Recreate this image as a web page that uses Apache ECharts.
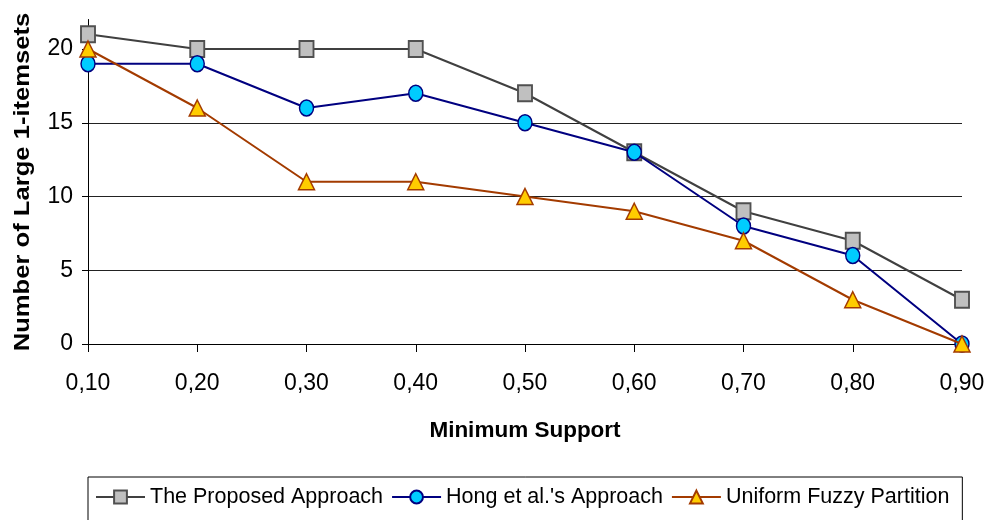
<!DOCTYPE html>
<html>
<head>
<meta charset="utf-8">
<script src="https://cdn.jsdelivr.net/npm/echarts@6/dist/echarts.min.js"></script>
<style>
  html, body { margin: 0; padding: 0; background: #fff; }
  #chart { width: 989px; height: 520px; }
</style>
</head>
<body>
<div id="chart"></div>
<script>
// Minimum support thresholds
const supports = ['0,10', '0,20', '0,30', '0,40', '0,50', '0,60', '0,70', '0,80', '0,90'];
// Number of large 1-itemsets found by each method
const proposed = [21, 20, 20, 20, 17, 13, 9, 7, 3];
const hong = [19, 19, 16, 17, 15, 13, 8, 6, 0];
const uniform = [20, 16, 11, 11, 10, 9, 7, 3, 0];
// Value-axis ticks
const yTicks = [0, 5, 10, 15, 20];

const FONT = 'Liberation Sans, Arial, sans-serif';

const chart = echarts.init(document.getElementById('chart'), null, { renderer: 'canvas' });

chart.setOption({
  animation: false,
  backgroundColor: '#ffffff',
  grid: { left: 88, right: 27, top: 19.5, bottom: 176, containLabel: false },
  xAxis: {
    type: 'category',
    data: supports,
    boundaryGap: false,
    name: 'Minimum Support',
    nameLocation: 'middle',
    nameGap: 75,
    nameTextStyle: { fontFamily: FONT, fontWeight: 'bold', fontSize: 22.5, color: '#000' },
    axisLine: { lineStyle: { color: '#000', width: 1 } },
    axisTick: { show: true, alignWithLabel: true, length: 8, lineStyle: { color: '#000' } },
    axisLabel: { fontFamily: FONT, fontSize: 23, color: '#000', margin: 28 },
    splitLine: { show: false }
  },
  yAxis: {
    type: 'value',
    min: 0,
    max: 22,
    interval: 5,
    axisLine: { show: true, lineStyle: { color: '#000', width: 1 } },
    axisTick: { show: true, length: 6, lineStyle: { color: '#000' }, customValues: yTicks },
    axisLabel: { fontFamily: FONT, fontSize: 23, color: '#000', margin: 15, customValues: yTicks },
    splitLine: { show: true, showMaxLine: false, lineStyle: { color: '#222', width: 1 } }
  },
  graphic: [
    {
      // vertical axis title
      type: 'text',
      x: 23,
      y: 182,
      rotation: Math.PI / 2,
      scaleX: 1.28,
      scaleY: 1.1,
      style: {
        text: 'Number of Large 1-itemsets',
        fontFamily: FONT,
        fontWeight: 'bold',
        fontSize: 20,
        fill: '#000',
        align: 'center',
        verticalAlign: 'middle'
      }
    }
  ],
  legend: {
    top: 477,
    left: 88,
    padding: [9, 13, 40, 7],
    borderColor: '#000',
    borderWidth: 1,
    itemGap: 8,
    itemWidth: 49,
    itemHeight: 16,
    textStyle: { fontFamily: FONT, fontSize: 21.5, color: '#000' },
    data: ['The Proposed Approach', "Hong et al.'s Approach", 'Uniform Fuzzy Partition']
  },
  series: [
    {
      name: 'The Proposed Approach',
      type: 'line',
      data: proposed,
      symbol: 'rect',
      symbolSize: [14, 16],
      lineStyle: { color: '#404040', width: 2 },
      itemStyle: { color: '#c0c0c0', borderColor: '#505050', borderWidth: 2 },
      z: 2
    },
    {
      name: "Hong et al.'s Approach",
      type: 'line',
      data: hong,
      symbol: 'circle',
      symbolSize: [14, 16],
      lineStyle: { color: '#000080', width: 2 },
      itemStyle: { color: '#00ccff', borderColor: '#000080', borderWidth: 1.5 },
      z: 3
    },
    {
      name: 'Uniform Fuzzy Partition',
      type: 'line',
      data: uniform,
      symbol: 'triangle',
      symbolSize: [16, 16],
      lineStyle: { color: '#a33b00', width: 2 },
      itemStyle: { color: '#ffcc00', borderColor: '#a33b00', borderWidth: 1.5 },
      z: 4
    }
  ]
});
</script>
</body>
</html>
